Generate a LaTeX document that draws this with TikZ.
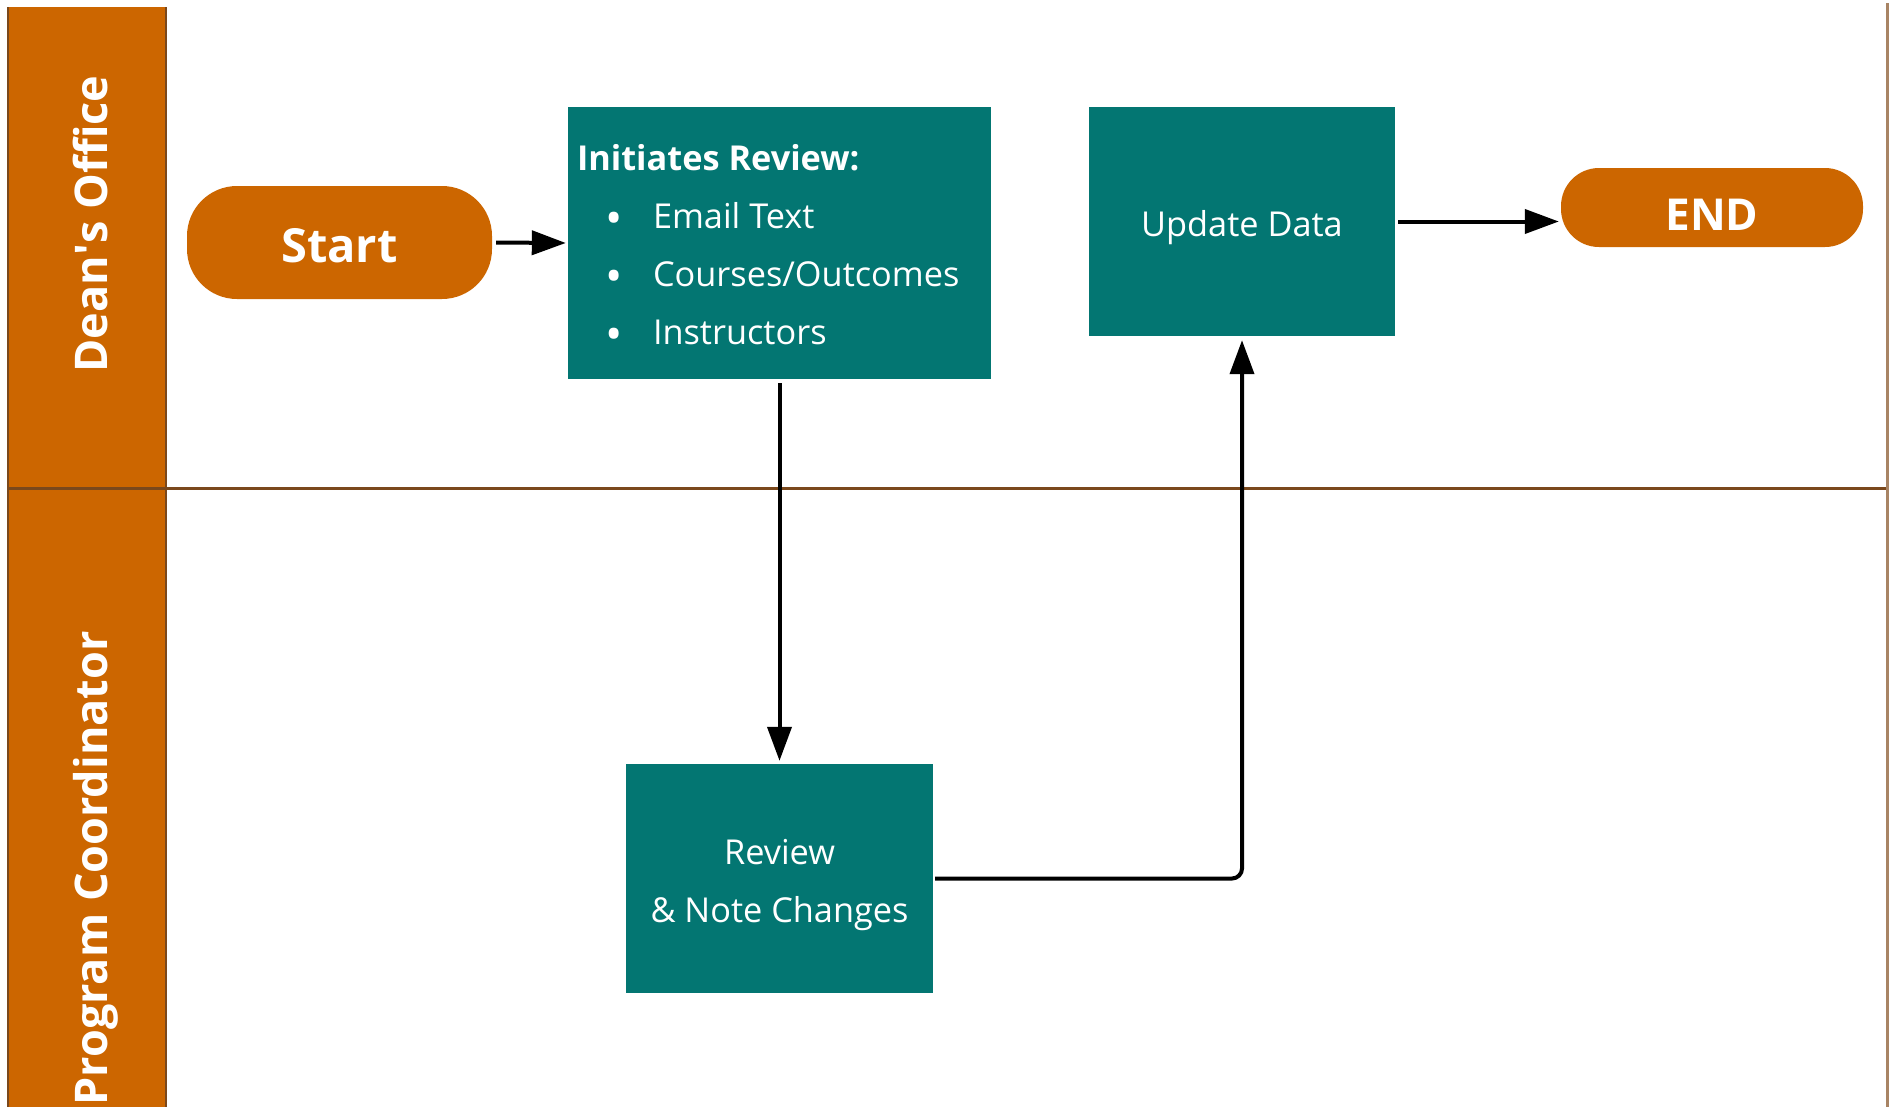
\documentclass[tikz,border=0pt]{standalone}
\usepackage{fontspec}
\setmainfont{Open Sans}
\usetikzlibrary{arrows.meta,calc}
\definecolor{laneorange}{RGB}{204,102,0}
\definecolor{boxteal}{RGB}{3,118,114}
\definecolor{laneline}{RGB}{122,72,28}
\definecolor{frameline}{RGB}{168,132,100}
\newcommand{\listdot}{\makebox[76pt][l]{\hspace{28pt}\raisebox{-6pt}{\fontsize{46}{58}\selectfont\textbullet}}}

\begin{document}
\begin{tikzpicture}[x=1pt,y=-1pt,
  flow/.style={-{Triangle[length=34pt,width=24pt]}, line width=4pt, black},
  process/.style={rectangle, fill=boxteal, text=white, inner sep=0pt,
    font=\fontsize{34.3}{58}\selectfont},
  terminal/.style={rectangle, fill=laneorange, text=white, inner sep=0pt,
    font=\bfseries\fontsize{44}{50}\selectfont},
  lanelabel/.style={rotate=90, anchor=base, text=white, inner sep=0pt,
    font=\bfseries\fontsize{45}{56}\selectfont}]
\useasboundingbox (0,0) rectangle (1890,1106);

% swimlane frame and header band
\begin{scope}
  \clip (0,0) rectangle (1890,1106);
  \fill[laneorange] (8,7) rectangle (166,1130);
  \draw[laneline, line width=2pt] (8,7) -- (8,1130);
  \draw[laneline, line width=2pt] (166,7) -- (166,1130);
  \draw[laneline, line width=3pt] (8,488) -- (1887,488);
  \draw[frameline, line width=3pt] (1887,3) -- (1887,1130);
  \node[lanelabel] (lane1) at (107,224) {Dean\textquotesingle s Office};
  \node[lanelabel, anchor=base east] (lane2) at (107,631) {Program Coordinator};
\end{scope}

% steps
\node[terminal, minimum width=305pt, minimum height=113pt, rounded corners=50pt,
  text height=39pt, text depth=0pt, font=\bfseries\fontsize{47}{50}\selectfont]
  (start) at (339.5,242.5) {Start};

\node[process, minimum width=423pt, minimum height=272pt] (init) at (779.5,243)
  {\parbox[c][226pt][t]{405pt}{\raggedright
    \rule{0pt}{40pt}\textbf{Initiates Review:}\\
    \listdot Email Text\\
    \listdot Courses/Outcomes\\
    \listdot Instructors}};

\node[process, minimum width=306pt, minimum height=229pt,
  text height=29pt, text depth=0pt] (upd) at (1242,221.5) {Update Data};

\node[terminal, minimum width=302pt, minimum height=79pt, rounded corners=38pt,
  text height=45pt, text depth=0pt] (finish) at (1712,207.5) {END};

\node[process, minimum width=307pt, minimum height=229pt] (review) at (779.5,878.5)
  {\parbox[c][109pt][t]{300pt}{\centering
    \rule{0pt}{40pt}Review\\
    \& Note Changes}};

% connectors
\draw[flow, shorten <=4pt, shorten >=2pt] (start.east) -- (init.west);
\draw[flow, shorten <=4pt, shorten >=3pt] (init.south) -- (review.north);
\draw[flow, rounded corners=10pt, shorten <=2pt, shorten >=4pt] (review.east) -| (upd.south);
\draw[flow, shorten <=3pt, shorten >=2pt] (upd.east) -- (upd.east -| finish.west);
\end{tikzpicture}
\end{document}
